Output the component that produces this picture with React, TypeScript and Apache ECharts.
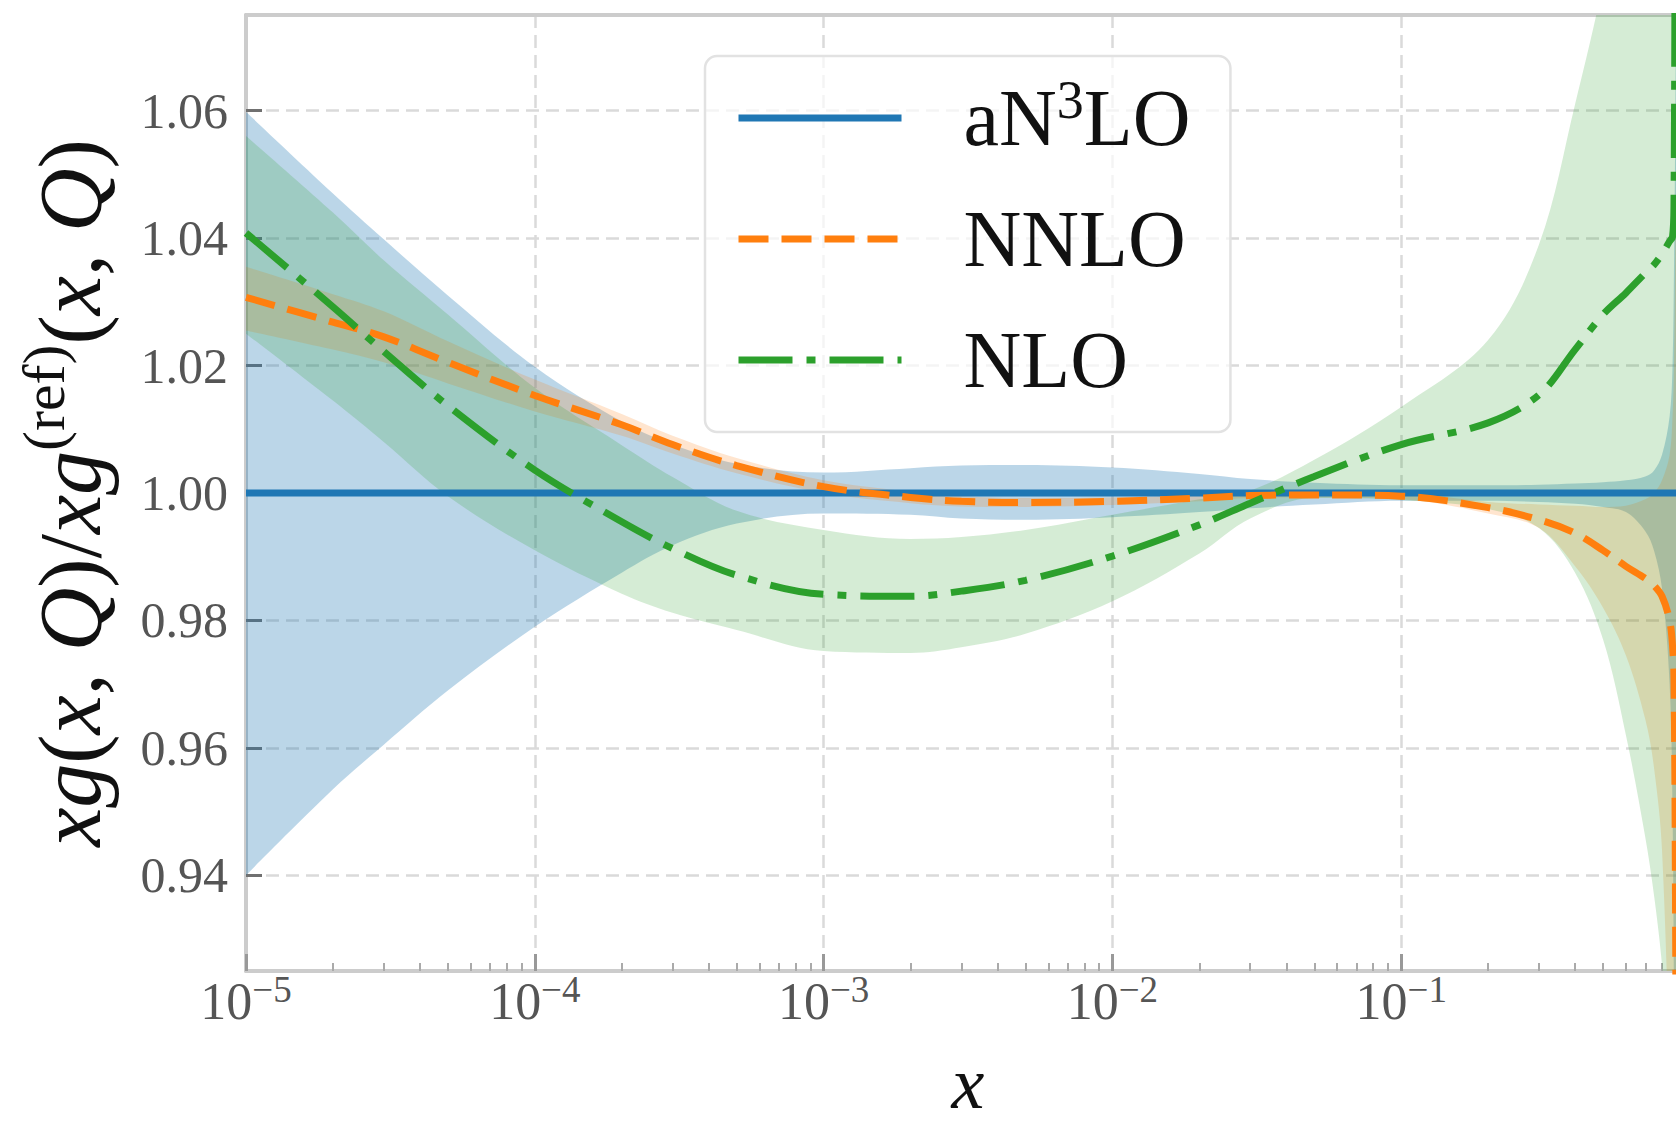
import { useEffect, useRef } from "react";
import * as echarts from "echarts";

// ---------- data ----------
const X_VALUES = [
  1e-5, 2e-5, 3e-5, 5e-5, 1e-4, 2e-4, 3e-4, 5e-4, 1e-3, 2e-3, 3e-3, 5e-3, 1e-2, 2e-2, 3e-2, 5e-2,
  0.1, 0.2, 0.3, 0.4, 0.5, 0.6, 0.7, 0.75, 0.8, 0.85, 0.87, 0.88, 0.89, 0.9,
];

const AN3LO_CENTRAL = [
  1, 1, 1, 1, 1, 1, 1, 1, 1, 1, 1, 1, 1, 1, 1, 1, 1, 1, 1, 1, 1, 1, 1, 1, 1, 1, 1, 1, 1, 1,
];
const AN3LO_LOW = [
  0.94, 0.9535, 0.9605, 0.969, 0.979, 0.9875, 0.9918, 0.9952, 0.9968, 0.9966, 0.996, 0.9958, 0.9962, 0.997, 0.9976, 0.9982,
  0.9988, 0.9988, 0.9986, 0.9983, 0.9978, 0.997, 0.994, 0.991, 0.985, 0.97, 0.95, 0.92, 0.87, 0.8,
];
const AN3LO_HIGH = [
  1.0598, 1.047, 1.0398, 1.031, 1.0198, 1.0112, 1.0076, 1.0046, 1.0032, 1.0039, 1.0043, 1.0044, 1.004, 1.003, 1.0022, 1.0016,
  1.0012, 1.0012, 1.0013, 1.0015, 1.0017, 1.002, 1.0026, 1.0035, 1.006, 1.012, 1.02, 1.035, 1.06, 1.1,
];

const NNLO_CENTRAL = [
  1.0307, 1.0268, 1.0245, 1.0205, 1.0153, 1.0107, 1.0076, 1.0043, 1.001, 0.9993, 0.9987, 0.9985, 0.9987, 0.9992, 0.9996, 0.9997,
  0.9995, 0.9977, 0.9958, 0.9937, 0.991, 0.9885, 0.9866, 0.9855, 0.9838, 0.98, 0.976, 0.971, 0.94, 0.88,
];
const NNLO_LOW = [
  1.0255, 1.0225, 1.0205, 1.0172, 1.0128, 1.009, 1.0062, 1.0031, 1.0, 0.9984, 0.9979, 0.9978, 0.9981, 0.9987, 0.9992, 0.9993,
  0.999, 0.9968, 0.9945, 0.9885, 0.982, 0.9745, 0.9645, 0.957, 0.944, 0.905, 0.85, 0.8, 0.75, 0.7,
];
const NNLO_HIGH = [
  1.0355, 1.0312, 1.0285, 1.0238, 1.0178, 1.0124, 1.009, 1.0055, 1.002, 1.0002, 0.9995, 0.9992, 0.9993, 0.9997, 1.0, 1.0001,
  1.0, 0.9986, 0.9982, 0.998, 0.9978, 0.998, 0.999, 1.0, 1.002, 1.006, 1.012, 1.02, 1.04, 1.06,
];

const NLO_CENTRAL = [
  1.0408, 1.0292, 1.0222, 1.0137, 1.0036, 0.9955, 0.9913, 0.9871, 0.9841, 0.9838, 0.9846, 0.9863, 0.9901, 0.995, 0.9984, 1.0026,
  1.0076, 1.011, 1.0154, 1.0225, 1.028, 1.0314, 1.0345, 1.0358, 1.0375, 1.0395, 1.0402, 1.045, 1.1, 1.15,
];
const NLO_LOW = [
  1.025, 1.0145, 1.008, 0.9995, 0.991, 0.9842, 0.9812, 0.9785, 0.9752, 0.9749, 0.9758, 0.9779, 0.983, 0.9905, 0.996, 0.9992,
  0.9989, 0.9975, 0.9945, 0.9875, 0.977, 0.962, 0.946, 0.937, 0.926, 0.91, 0.89, 0.88, 0.87, 0.86,
];
const NLO_HIGH = [
  1.056, 1.044, 1.0365, 1.028, 1.0165, 1.0075, 1.0025, 0.9972, 0.9942, 0.9928, 0.9931, 0.9942, 0.9966, 0.999, 1.0004, 1.0052,
  1.0135, 1.024, 1.039, 1.061, 1.08, 1.1, 1.12, 1.13, 1.14, 1.15, 1.16, 1.16, 1.17, 1.17,
];

const Y_TICKS = [0.94, 0.96, 0.98, 1.0, 1.02, 1.04, 1.06];
const X_DECADES = [-5, -4, -3, -2, -1];
const MINOR_MULTIPLIERS = [2, 3, 4, 5, 6, 7, 8, 9];
const LEGEND_NAMES = ["aN3LO", "NNLO", "NLO"];

const X_MIN = 1e-5;
const X_MAX = 1;
const Y_MIN = 0.925;
const Y_MAX = 1.075;

const SERIF = "'Liberation Serif', 'Times New Roman', serif";
const BLUE = "#1f77b4";
const ORANGE = "#ff7f0e";
const GREEN = "#2ca02c";
const SMOOTH = 0.35;

export default function App() {
  const ref = useRef<HTMLDivElement>(null);

  useEffect(() => {
    if (!ref.current) return;
    const chart = echarts.init(ref.current, null, { renderer: "svg" });

    const pts = (ys: number[]) => X_VALUES.map((x, i) => [x, ys[i]]);
    // band data are stored as [y, x] so that ECharts stacks the y dimension
    const swapped = (ys: number[]) => X_VALUES.map((x, i) => [ys[i], x]);
    const swappedDiff = (hi: number[], lo: number[]) =>
      X_VALUES.map((x, i) => [+(hi[i] - lo[i]).toFixed(6), x]);

    const minorTicks: number[] = [];
    X_DECADES.forEach((d) =>
      MINOR_MULTIPLIERS.forEach((m) => minorTicks.push(Number((m * Math.pow(10, d)).toPrecision(3))))
    );

    const band = (id: string, lo: number[], hi: number[], color: string) => [
      {
        name: id + "-low",
        type: "line",
        data: swapped(lo),
        encode: { x: 1, y: 0 },
        stack: id,
        symbol: "none",
        smooth: SMOOTH,
        silent: true,
        lineStyle: { width: 0, opacity: 0 },
        z: 1,
      },
      {
        name: id + "-high",
        type: "line",
        data: swappedDiff(hi, lo),
        encode: { x: 1, y: 0 },
        stack: id,
        symbol: "none",
        smooth: SMOOTH,
        silent: true,
        lineStyle: { width: 0, opacity: 0 },
        areaStyle: { color, opacity: 1 },
        z: 1,
      },
    ];

    const line = (name: string, ys: number[], color: string, type: any) => ({
      name,
      type: "line",
      data: pts(ys),
      symbol: "none",
      smooth: SMOOTH,
      silent: true,
      itemStyle: { color },
      lineStyle: { color, width: 7, type, cap: "butt" },
      z: 3,
    });

    const gridLine = { show: true, lineStyle: { color: "#dadada", width: 2.5, type: [13, 7] } };

    const option: any = {
      animation: false,
      backgroundColor: "#ffffff",
      textStyle: { fontFamily: SERIF },
      grid: {
        left: 246,
        top: 15,
        width: 1444,
        height: 956,
        containLabel: false,
        outerBoundsMode: "none",
      },
      legend: {
        data: LEGEND_NAMES,
        orient: "vertical",
        left: 705,
        top: 56,
        itemWidth: 163,
        itemHeight: 14,
        itemGap: 41,
        padding: [17, 40, 32, 30],
        selectedMode: false,
        backgroundColor: "rgba(255,255,255,0.7)",
        borderColor: "#e2e2e2",
        borderWidth: 2.5,
        borderRadius: 12,
        itemStyle: { opacity: 0, borderWidth: 0 },
        lineStyle: { width: 7 },
        formatter: (name: string) =>
          name === "aN3LO" ? "{t|aN}{s|3}{t|LO}" : `{t|${name}}`,
        textStyle: {
          padding: [0, 0, 0, 57],
          rich: {
            t: { fontFamily: SERIF, fontSize: 80, color: "#111111", lineHeight: 90 },
            s: { fontFamily: SERIF, fontSize: 54, color: "#111111", lineHeight: 62, verticalAlign: "top" },
          },
        },
        z: 10,
      },
      xAxis: [
        {
          type: "log",
          logBase: 10,
          min: X_MIN,
          max: X_MAX,
          position: "bottom",
          name: "x",
          nameLocation: "middle",
          nameGap: 84,
          nameMoveOverlap: false,
          nameTextStyle: { fontFamily: SERIF, fontStyle: "italic", fontSize: 74, lineHeight: 56, color: "#111111" },
          axisLine: { show: true, onZero: false, lineStyle: { color: "#cccccc", width: 4 } },
          axisTick: { show: true, inside: true, length: 17, lineStyle: { color: "#999999", width: 3 } },
          axisLabel: {
            margin: 0,
            formatter: (v: number) => {
              const e = Math.round(Math.log10(v));
              if (e >= 0) return "";
              return `{b|10}{s|\u2212${-e}}`;
            },
            rich: {
              b: { fontFamily: SERIF, fontSize: 52, color: "#555555", lineHeight: 56, verticalAlign: "bottom" },
              s: { fontFamily: SERIF, fontSize: 37, color: "#555555", lineHeight: 34, verticalAlign: "top" },
            },
          },
          splitLine: gridLine,
          minorTick: { show: false },
          minorSplitLine: { show: false },
        },
        {
          type: "log",
          logBase: 10,
          min: X_MIN,
          max: X_MAX,
          position: "bottom",
          axisLine: { show: false, onZero: false },
          axisTick: {
            show: true,
            inside: true,
            length: 8,
            customValues: minorTicks,
            lineStyle: { color: "#aaaaaa", width: 2 },
          },
          axisLabel: { show: false },
          splitLine: { show: false },
        },
        {
          type: "log",
          logBase: 10,
          min: X_MIN,
          max: X_MAX,
          position: "top",
          axisLine: { show: true, onZero: false, lineStyle: { color: "#cccccc", width: 4 } },
          axisTick: { show: false },
          axisLabel: { show: false },
          splitLine: { show: false },
        },
      ],
      yAxis: {
        type: "value",
        min: Y_MIN,
        max: Y_MAX,
        position: "left",
        name: "{i|xg}{r|(}{i|x}{r|, }{i|Q}{r|)/}{i|xg}{p|(ref)}{r|(}{i|x}{r|, }{i|Q}{r|)}",
        nameLocation: "middle",
        nameRotate: 90,
        nameGap: 132,
        nameMoveOverlap: false,
        nameTextStyle: {
          rich: {
            i: { fontFamily: SERIF, fontStyle: "italic", fontSize: 88, color: "#111111", lineHeight: 100, verticalAlign: "bottom" },
            r: { fontFamily: SERIF, fontSize: 88, color: "#111111", lineHeight: 100, verticalAlign: "bottom" },
            p: { fontFamily: SERIF, fontSize: 60, color: "#111111", lineHeight: 66, verticalAlign: "top" },
          },
        },
        axisLine: { show: true, onZero: false, lineStyle: { color: "#cccccc", width: 4 } },
        axisTick: {
          show: true,
          inside: true,
          length: 16,
          customValues: Y_TICKS,
          lineStyle: { color: "#707070", width: 3 },
        },
        axisLabel: {
          customValues: Y_TICKS,
          formatter: (v: number) => v.toFixed(2),
          margin: 18,
          fontFamily: SERIF,
          fontSize: 50,
          color: "#555555",
        },
        splitLine: gridLine,
      },
      series: [
        ...band("aN3LO-band", AN3LO_LOW, AN3LO_HIGH, "rgba(31,119,180,0.3)"),
        ...band("NNLO-band", NNLO_LOW, NNLO_HIGH, "rgba(255,127,14,0.2)"),
        ...band("NLO-band", NLO_LOW, NLO_HIGH, "rgba(44,160,44,0.2)"),
        line("aN3LO", AN3LO_CENTRAL, BLUE, "solid"),
        line("NNLO", NNLO_CENTRAL, ORANGE, [30, 13]),
        line("NLO", NLO_CENTRAL, GREEN, [54, 14, 9, 14]),
      ],
    };

    chart.setOption(option);
    return () => chart.dispose();
  }, []);

  return (
    <div
      ref={ref}
      style={{ position: "absolute", left: 0, top: 0, width: 1676, height: 1125, overflow: "hidden" }}
    />
  );
}
